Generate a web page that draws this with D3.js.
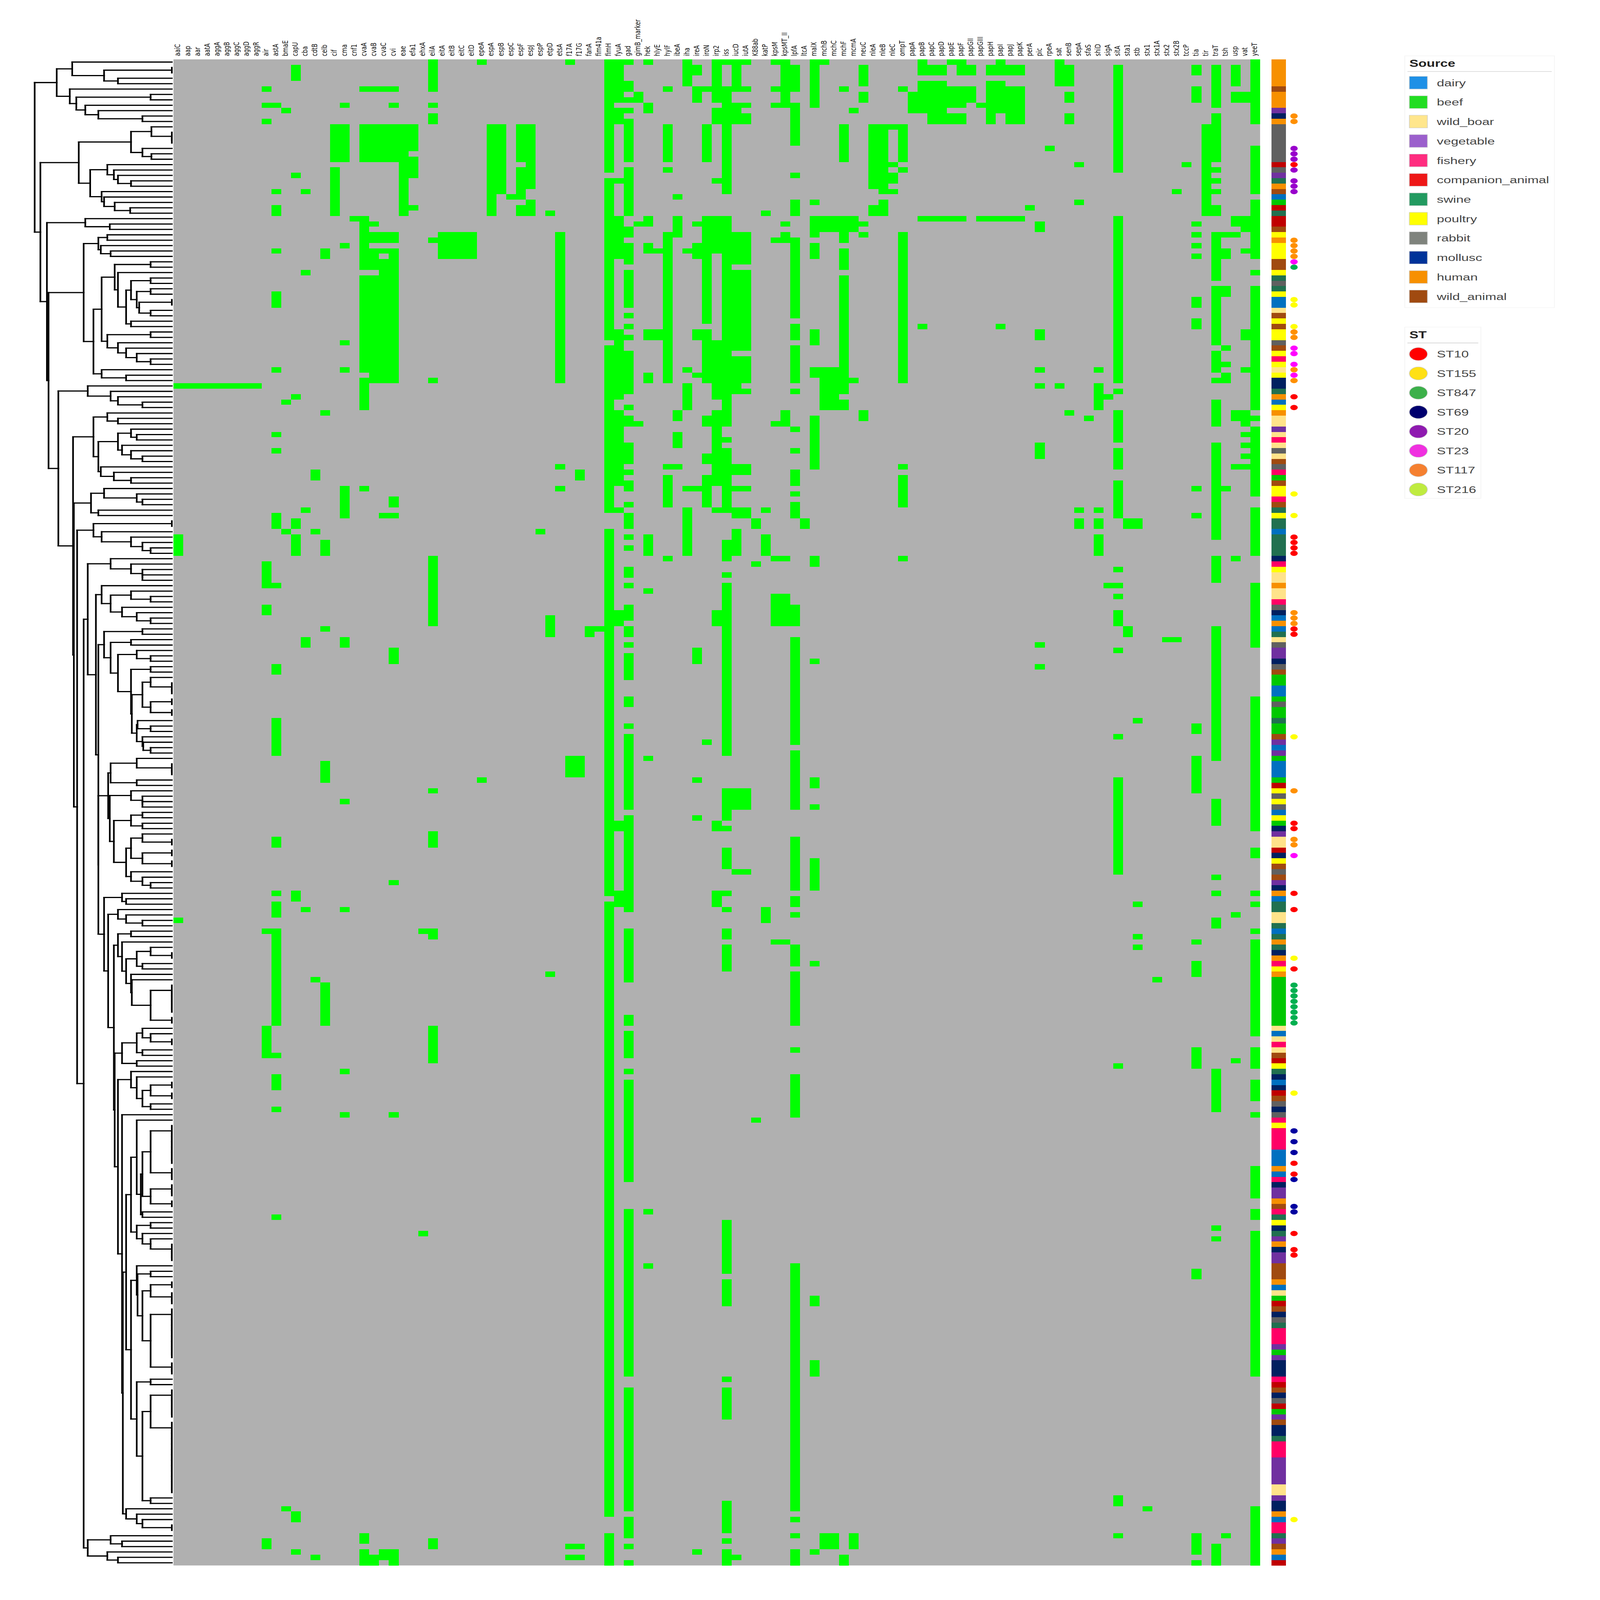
<!DOCTYPE html>
<html>
<head>
<meta charset="utf-8">
<script src="https://cdnjs.cloudflare.com/ajax/libs/d3/7.8.5/d3.min.js"></script>
<style>
  html, body { margin: 0; padding: 0; background: #fff; width: 100%; height: 100%; overflow: hidden; }
  svg { display: block; width: 100vw; height: 100vh; }
  .gene { font-family: "DejaVu Sans"; font-size: 20.5px; fill: #111; }
  .lg { font-family: "Liberation Sans"; font-size: 35.5px; fill: #444; }
  .lt { font-family: "Liberation Sans"; font-size: 36px; font-weight: bold; fill: #222; }
</style>
</head>
<body>
<svg id="chart" viewBox="0 0 4246 5929" preserveAspectRatio="none"></svg>
<script>
const genes = ["aaiC","aap","aar","aatA","aggA","aggB","aggC","aggD","aggR","air","astA","bmaE","capU","cba","cdtB","celb","cif","cma","cnf1","cvaA","cvaB","cvaC","cvi","eae","efa1","ehxA","eilA","eitA","eitB","eitC","eitD","epeA","espA","espB","espC","espF","espJ","espP","etpD","etsA","f17A","f17G","fanA","fim41a","fimH","fyuA","gad","gimB_marker","hek","hlyE","hylF","ibeA","iha","ireA","iroN","irp2","iss","iucD","iutA","K88ab","katP","kpsM","kpsMT_II","lpfA","ltcA","malX","mchB","mchC","mchF","mcmA","neuC","nleA","nleB","nleC","ompT","papA","papB","papC","papD","papE","papF","papGII","papGIII","papH","papI","papJ","papK","perA","pic","rpeA","sat","senB","sepA","sfaS","shiD","sigA","sitA","sta1","stb","stx1","stx1A","stx2","stx2B","tccP","tia","tir","traT","tsh","usp","vat","yeeT"];

// rows (top to bottom, 0-based) where each gene is present, same order as genes
const geneRows = [
"60,88-91,159","60","60","60","60","60","60","60","60",
"5,8,11,93-97,101-102,161,179-184,274-275",
"8,24,27-28,35,43-45,57,69,72,84-86,97,112-113,122-128,144-145,154,156-158,161-178,184,188-190,194,214",
"9,63,87,268",
"1-3,21,62,85-86,88-91,154-155,269-270,276",
"24,39,83,107-108,157",
"76-77,87,170,277",
"35-36,65,89-91,105,130-133,171-178",
"12-18,20-28",
"8,12-18,34,52,57,79-84,107-108,137,157,187,195",
"29",
"5,12-18,29-38,40-57,59-64,79,273-274,276-278",
"5,12-18,30,32-33,35-38,40-59,277-278",
"5,12-18,32-33,35,37-59,84,276-277",
"5,8,12-18,32-33,35-59,81-82,84,109-111,152,195,276-278",
"12-28",
"12-16,18-21,27",
"161,217",
"0-5,8,10-11,33,59,92-104,135,143-145,161-162,179-185,274-275",
"32-36","32-36","32-36","32-36",
"0,133",
"12-28",
"12-24",
"25",
"12-18,20-25,27-28",
"12-23,26-28",
"87",
"28,103-106,169",
"32-59,75,79",
"0,129-132,275,277",
"76-77,129-132,275,277",
"105-106",
"105",
"0-20,22-51,53-83,87-154,156-269,273-278",
"0-7,9-11,22,29-36,50-62,65-78,83,102-104,141-142,154-156",
"0,4-5,7,9,11-18,20-28,31-32,34-37,39-45,47,49,51,54-61,64,66-67,71-74,76,78-79,82,84-86,88,90,94-95,97,101-103,105-106,108,110-114,118-119,123,125-138,140-157,161-170,177-178,180-184,187,189-207,213-243,246-268,270-273,275,278",
"6-7,30,67",
"0,8-9,29-30,34-35,50-51,58-59,88-91,98,129,213,223",
"35,50-51",
"5,12-18,20,32-59,75,77-82,92",
"25,29-32,65-66,69-71,75",
"0-4,35,57,60-64,79,83-91",
"1-2,5-7,30,34-36,50-51,58,79,109-111,133,140,276",
"5,12-18,29-48,50-59,66-67,73-74,77-82,126",
"0-7,9-11,22,29-35,52-62,65-78,83,102-104,141-142,154-156",
"0,5-24,29-67,70,72-83,89-92,95,97-128,135-140,142,146-149,154,157,161-162,164-168,215-224,226-230,244,246-251,267-272,274,276-278",
"0-5,8-11,32-37,39-53,55-61,75-76,79,83-84,87-91,135-138,150,277",
"0,5,8,10-11,32-37,39-53,55-59,61,75-76,79,83-84,135-138,150",
"85-86,93,196",
"28,83,88-91,157-159",
"0,5,8,33,67,92,99-104,163",
"0-8,30,32-33,65-67,92,99-104,163",
"1-5,8-15,21,26-28,33-47,49-51,53-59,61,68,72,76-78,80,82-84,101-104,107-126,128-138,144-153,155-156,158,164-167,169-178,183,188-195,223-268,270,273,276-278",
"85-86",
"0-8,26,29-32,34-36,50-52,57-58,66-75,92-93,111,133-134,138,148-153,167,229-230,241-243,276",
"0,29-31,57-64,273-275",
"29-31,57-64,273-275",
"5,12-18,29-33,35-38,40-61,63-64,277-278",
"9,29-31,59,273-275",
"1-4,6-7,30,32,65-66",
"12-23,27-28",
"12-24,26-28",
"12,19,21-22,24",
"5,12-18,20,32-59,75,77-82,92",
"6-9",
"0-2,4-9,29,49",
"1-2,4-11,29",
"1-2,4-11,29",
"0,5-8,10-11,29",
"0-2,5-8,10-11,29",
"1-2,5-7",
"8,29",
"1-2,4-11,29",
"0-2,4-9,29,49",
"1-2,5-11,29",
"1-2,5-11,29",
"27",
"30-31,50-51,57,60,71-73,108,112",
"16",
"0-4,60",
"1-4,6-7,10-11,65",
"19,26,83,85-86",
"66",
"57,60-64,83,85-86,88-91",
"62,97",
"1-20,29-59,61,65-70,72-75,78-84,94,97,99,102-104,109,125,133-150,186,266-267,273",
"85-86,105-106",
"85-86,122,156,162,164",
"268",
"170",
"107",
"24,107",
"19",
"1-2,5-7,30,32,34,36,44-45,48-49,79,84,123-124,129-135,163,167-169,183-186,224-225,273-276,278",
"12-28",
"1-8,10-18,20,22,24,27-28,32-40,42-52,54-57,59,63-67,71-88,92-96,105-129,137-141,151,154,159-160,187-194,216,218,275-278",
"32,35-36,42-43,53,56,58-59,79,273",
"1-4,6-7,29-30,32,65-66,75,92,158,185",
"6-7,29-31,35,50-51,57,65-67,69,71,73,75",
"0-11,16-24,26-36,39,42-64,66,68-80,83-91,97-108,118-142,146-147,154,156,161,163-180,183-186,189-192,195,205-210,213-214,217-243,268-278"
];

const sourceNames = ["dairy","beef","wild_boar","vegetable","fishery","companion_animal","swine","poultry","rabbit","mollusc","human","wild_animal"];
const sourceCodes = ["D","B","O","V","F","C","S","P","R","M","H","W"];
const sourceLegendColors = ["#1E90E6","#22DD22","#FFE68C","#9B5FCC","#FF2D80","#EE1717","#229A60","#FFFF00","#7F837D","#003399","#F79000","#A04A10"];
const sourceBarColors = ["#0070C0","#00C800","#FFE38A","#7030A0","#FF0066","#C00000","#217050","#FFFF00","#606060","#002060","#F79000","#A04A10"];

// source of each row, as code + number of consecutive rows
const sourceRuns = ("H5 W1 H3 V1 M1 H1 R7 C1 R1 V1 S1 H1 W1 D1 B1 C1 S1 C2 W1 P1 H1 P3 W2 P1 S1 R1 S1 P1 D2 O1 W1 P1 W1 P2 R1 W1 P1 F1 P1 O1 P1 M2 S1 H1 D1 P1 H1 O2 V1 O1 F1 O1 R1 O1 W1 R1 F1 B1 W1 P2 F1 W1 S1 P1 S2 D1 S4 " +
  "M1 F1 P1 O2 H1 O2 F1 R1 M1 D1 H1 D1 S1 O1 R1 V2 M1 R1 W1 B2 D2 B1 R1 B2 S1 B2 W1 V1 D1 V1 B1 D3 B1 C1 P1 R1 P1 R1 D1 P1 B1 M1 V1 O2 C1 M1 P1 W1 R1 W1 V1 M1 H1 D1 S2 O2 S1 D1 S1 H1 S1 M1 H1 F1 P1 H1 B9 O1 D1 O1 F1 O1 W1 C1 " +
  "P1 S1 M1 D1 M1 C1 W1 R1 M1 R1 F1 P1 F4 D3 H1 D1 F1 M1 V2 H1 W1 F1 S1 P1 M1 S1 V1 H1 M1 V2 W3 H1 D1 O1 B1 C1 W1 M1 R1 S1 F3 V1 B1 V1 M3 F1 C1 W1 M1 R1 C1 B1 V1 W1 M2 S1 F3 V5 O2 V1 M2 H1 D1 F2 S1 V1 W1 H1 D1 C1").split(" ");

const stNames = ["ST10","ST155","ST847","ST69","ST20","ST23","ST117","ST216"];
const stLegendColors = ["#FF0000","#FFE014","#3CB04A","#00006E","#8F1AB0","#F030E0","#F58030","#BFEB40"];
const stDotColors = ["#FF0000","#FFFF00","#00B050","#0000A0","#9900CC","#FF00FF","#FF9000","#BFEB40"];
// rows carrying a dot for each ST, same order as stNames
const stRows = [
  "19,62,64,88-91,105-106,141-142,154,157,168,204,206,217,220-221",
  "44-45,49,80,84,125,166,191,270",
  "38,171-178",
  "198,200,202,207,212-213",
  "16-18,20,22-24",
  "37,53-54,56,58,147",
  "10-11,33-36,50-51,57,59,102-104,135,144-145",
  ""
];

// dendrogram: (height child child), "." one leaf, "*n" n leaves at distance zero
const cladeTop = "(141 (122 . (83 *2 (66 . .))) (125 . (117 (26 . .) (106 . (90 . (36 . .))))))";
const cladeRabbit = "(114 (50 (25 . *3) (36 . (25 . .))) (100 (79 . (71 . (66 . (50 . .)))) (86 . (83 . (70 . (51 . .))))))";
const cladePoultry = `(108 (90 (79 . .) (87 . (75 . .))) (96 (86 (70 (26 . .) (66 . (56 (50 (26 . .) (43 (26 . .) (40 *2 (26 . .)))) (50 . .)))) (79 (26 . .) (66 . (56 . (43 . (26 . .)))))) (86 . (56 . .))))`;
const cladeB = "(96 (79 . (66 . .)) (90 (66 (50 . (43 . .)) (61 . (50 . (36 . .)))) (87 . (71 . (50 . .)))))";
const cladeC = "(99 (83 . (43 . (36 . .))) (90 . .))";
const cladeD = "(96 *2 (86 . (50 . (36 . (26 . .)))))";
const cladeE = "(75 . (50 . (36 . (36 . .))))";
const cladeF = "(86 . (75 (50 . (26 . .)) (61 . (43 . (26 . .)))))";
const cladeG = "(83 (36 . .) (75 (50 . .) (66 (43 . (26 . .)) (50 (26 . .) (49 (36 (26 . *3) (26 *2 *2)) (43 (42 . (26 . .)) (36 . (35 . (26 . .)))))))))";
const cladeH = "(78 (75 (43 . *3) (43 . .)) (76 (50 . (36 . (36 . .))) (71 (50 (36 . .) (36 . .)) (56 (50 (36 . *2) (36 *2 *2)) (50 . (36 . (26 . .)))))))";
const cladeI = "(66 (50 . .) (61 . (56 (43 (26 . *2) (36 . .)) (50 . (49 . (26 *6 *2))))))";
const cladeJ = "(61 (43 (36 . (26 . *2)) (36 . .)) (43 . .))";
const cladeK = "(50 (43 . (38 (36 (26 *8 *3) (26 *3 *2)) (36 . .))) (43 (26 . .) (36 . (26 . *4))))";
const cladeL = "(50 (43 . (42 (26 . .) (36 (26 *2 *3) (26 *10 *3)))) (43 (26 . .) (36 (26 *6 *14) (26 . .))))";
const cladeM = `(66 (50 . (43 . (36 (26 *2 *2) (26 . .)))) (61 . (60 (56 ${cladeK} ${cladeL}) (56 . (43 . (36 . *2))))))`;
const cladeN = `(83 (61 . (56 . .)) (78 (66 . (56 . (36 . .))) (71 ${cladeI} (70 ${cladeJ} ${cladeM}))))`;
const cladeO = `(103 ${cladeE} (93 ${cladeF} (90 ${cladeG} (90 ${cladeH} ${cladeN}))))`;
const cladeP = "(103 (75 . (61 . .)) (79 . (66 . .)))";
const cladeQ = `(121 ${cladeB} (120 ${cladeC} (116 ${cladeD} (108 ${cladeO} ${cladeP}))))`;
const cladeR = `(139 (103 . (75 . (66 . (36 . .)))) ${cladeQ})`;
const treeText = `(168 ${cladeTop} (161 ${cladeRabbit} (153 (106 . (76 . .)) (151 ${cladePoultry} ${cladeR}))))`;

function parseRows(s) {
  return s ? s.split(",").map(p => {
    const [a, b] = p.split("-").map(Number);
    return [a, b === undefined ? a : b];
  }) : [];
}

function parseTree(text) {
  const tok = text.match(/\(|\)|\.|\*\d+|\d+/g);
  let i = 0;
  const chain = n => n === 1 ? { h: 0 } : { h: 0, children: [{ h: 0 }, chain(n - 1)] };
  function node() {
    const t = tok[i++];
    if (t === ".") return { h: 0 };
    if (t[0] === "*") return chain(+t.slice(1));
    const n = { h: +tok[i++], children: [] };
    while (tok[i] !== ")") n.children.push(node());
    i++;
    return n;
  }
  return node();
}

const rowCount = 279;
const svg = d3.select("#chart");

const xGene = d3.scaleBand().domain(genes).range([460.4, 3344]);
const yRow = d3.scaleBand().domain(d3.range(rowCount)).range([220, 5801]);
const xTree = d3.scaleLinear().domain([0, 168]).range([456, 92]);

//Heatmap
svg.append("rect")
  .attr("x", 460.4).attr("y", 220)
  .attr("width", xGene.range()[1] - 460.4).attr("height", 5581)
  .attr("fill", "#B0B0B0");

const runs = genes.flatMap((g, i) => parseRows(geneRows[i]).map(([a, b]) => ({ g, a, b })));
svg.append("g").attr("shape-rendering", "crispEdges")
  .selectAll("rect").data(runs).join("rect")
  .attr("x", d => xGene(d.g))
  .attr("y", d => yRow(d.a))
  .attr("width", xGene.bandwidth())
  .attr("height", d => yRow(d.b) + yRow.bandwidth() - yRow(d.a))
  .attr("fill", "#00FF00");

//Gene labels
svg.append("g").selectAll("text").data(genes).join("text")
  .attr("class", "gene")
  .attr("transform", d => `translate(${xGene(d) + 18},208) rotate(-90)`)
  .text(d => d);

//Dendrogram
const root = d3.hierarchy(parseTree(treeText));
const leaves = root.leaves();
leaves.forEach((n, i) => { n.py = yRow(i) + yRow.bandwidth() / 2; });
root.eachAfter(n => {
  if (n.children) n.py = (n.children[0].py + n.children[n.children.length - 1].py) / 2;
  n.px = xTree(n.data.h);
});
const inner = root.descendants().filter(n => n.children);
const treeG = svg.append("g")
  .attr("stroke", "#000").attr("stroke-width", 4.4).attr("stroke-linecap", "square").attr("fill", "none");
treeG.selectAll(".v").data(inner).join("line").attr("class", "v")
  .attr("x1", d => d.px).attr("x2", d => d.px)
  .attr("y1", d => d.children[0].py)
  .attr("y2", d => d.children[d.children.length - 1].py);
treeG.selectAll(".h").data(root.links().filter(l => l.target.px !== l.source.px)).join("line").attr("class", "h")
  .attr("x1", d => d.source.px).attr("x2", d => d.target.px)
  .attr("y1", d => d.target.py).attr("y2", d => d.target.py);

//Source bar
const sourceOfRow = sourceRuns.flatMap(t => d3.range(+t.slice(1)).map(() => sourceCodes.indexOf(t[0])));
svg.append("g").attr("shape-rendering", "crispEdges")
  .selectAll("rect").data(sourceOfRow).join("rect")
  .attr("x", 3374).attr("width", 38.5)
  .attr("y", (d, i) => yRow(i))
  .attr("height", yRow.bandwidth())
  .attr("fill", d => sourceBarColors[d]);

//ST dots
const dots = stNames.flatMap((s, i) => parseRows(stRows[i]).flatMap(([a, b]) => d3.range(a, b + 1).map(r => ({ i, r }))));
svg.append("g").selectAll("circle").data(dots).join("circle")
  .attr("cx", 3434)
  .attr("cy", d => yRow(d.r) + yRow.bandwidth() / 2)
  .attr("r", 9.8)
  .attr("fill", d => stDotColors[d.i]);

//Legends
function legendFrame(title, left, right, top, bottom, titleY, lineY) {
  const g = svg.append("g");
  g.append("rect").attr("x", left).attr("y", top).attr("width", right - left).attr("height", bottom - top)
    .attr("fill", "#fff").attr("stroke", "#F4F4F4").attr("stroke-width", 2);
  g.append("text").attr("class", "lt").attr("x", 3740).attr("y", titleY).attr("dy", "0.36em").text(title);
  g.append("line").attr("x1", left + 7).attr("x2", right - 7).attr("y1", lineY).attr("y2", lineY)
    .attr("stroke", "#CCC").attr("stroke-width", 2);
  return g;
}

const sourceLegend = legendFrame("Source", 3728, 4125, 207, 1140, 234, 265);
const ySource = d3.scalePoint().domain(sourceNames).range([306.5, 306.5 + 72 * 11]);
sourceLegend.selectAll(".sw").data(sourceNames).join("rect").attr("class", "sw")
  .attr("x", 3740).attr("width", 48).attr("height", 47)
  .attr("y", d => ySource(d) - 23.5)
  .attr("fill", (d, i) => sourceLegendColors[i])
  .attr("stroke", "#CCC").attr("stroke-width", 1.5);
sourceLegend.selectAll(".lb").data(sourceNames).join("text").attr("class", "lg lb")
  .attr("x", 3813).attr("y", d => ySource(d)).attr("dy", "0.36em").text(d => d);

const stLegend = legendFrame("ST", 3728, 3930, 1212, 1847, 1240, 1271);
const yST = d3.scalePoint().domain(stNames).range([1312, 1814]);
stLegend.selectAll("circle").data(stNames).join("circle")
  .attr("cx", 3764).attr("r", 24)
  .attr("cy", d => yST(d))
  .attr("fill", (d, i) => stLegendColors[i])
  .attr("stroke", "#CCC").attr("stroke-width", 1.5);
stLegend.selectAll(".lb").data(stNames).join("text").attr("class", "lg lb")
  .attr("x", 3813).attr("y", d => yST(d)).attr("dy", "0.36em").text(d => d);

if (leaves.length !== rowCount || sourceOfRow.length !== rowCount)
  throw new Error("row count " + leaves.length + " / " + sourceOfRow.length);
</script>
</body>
</html>
